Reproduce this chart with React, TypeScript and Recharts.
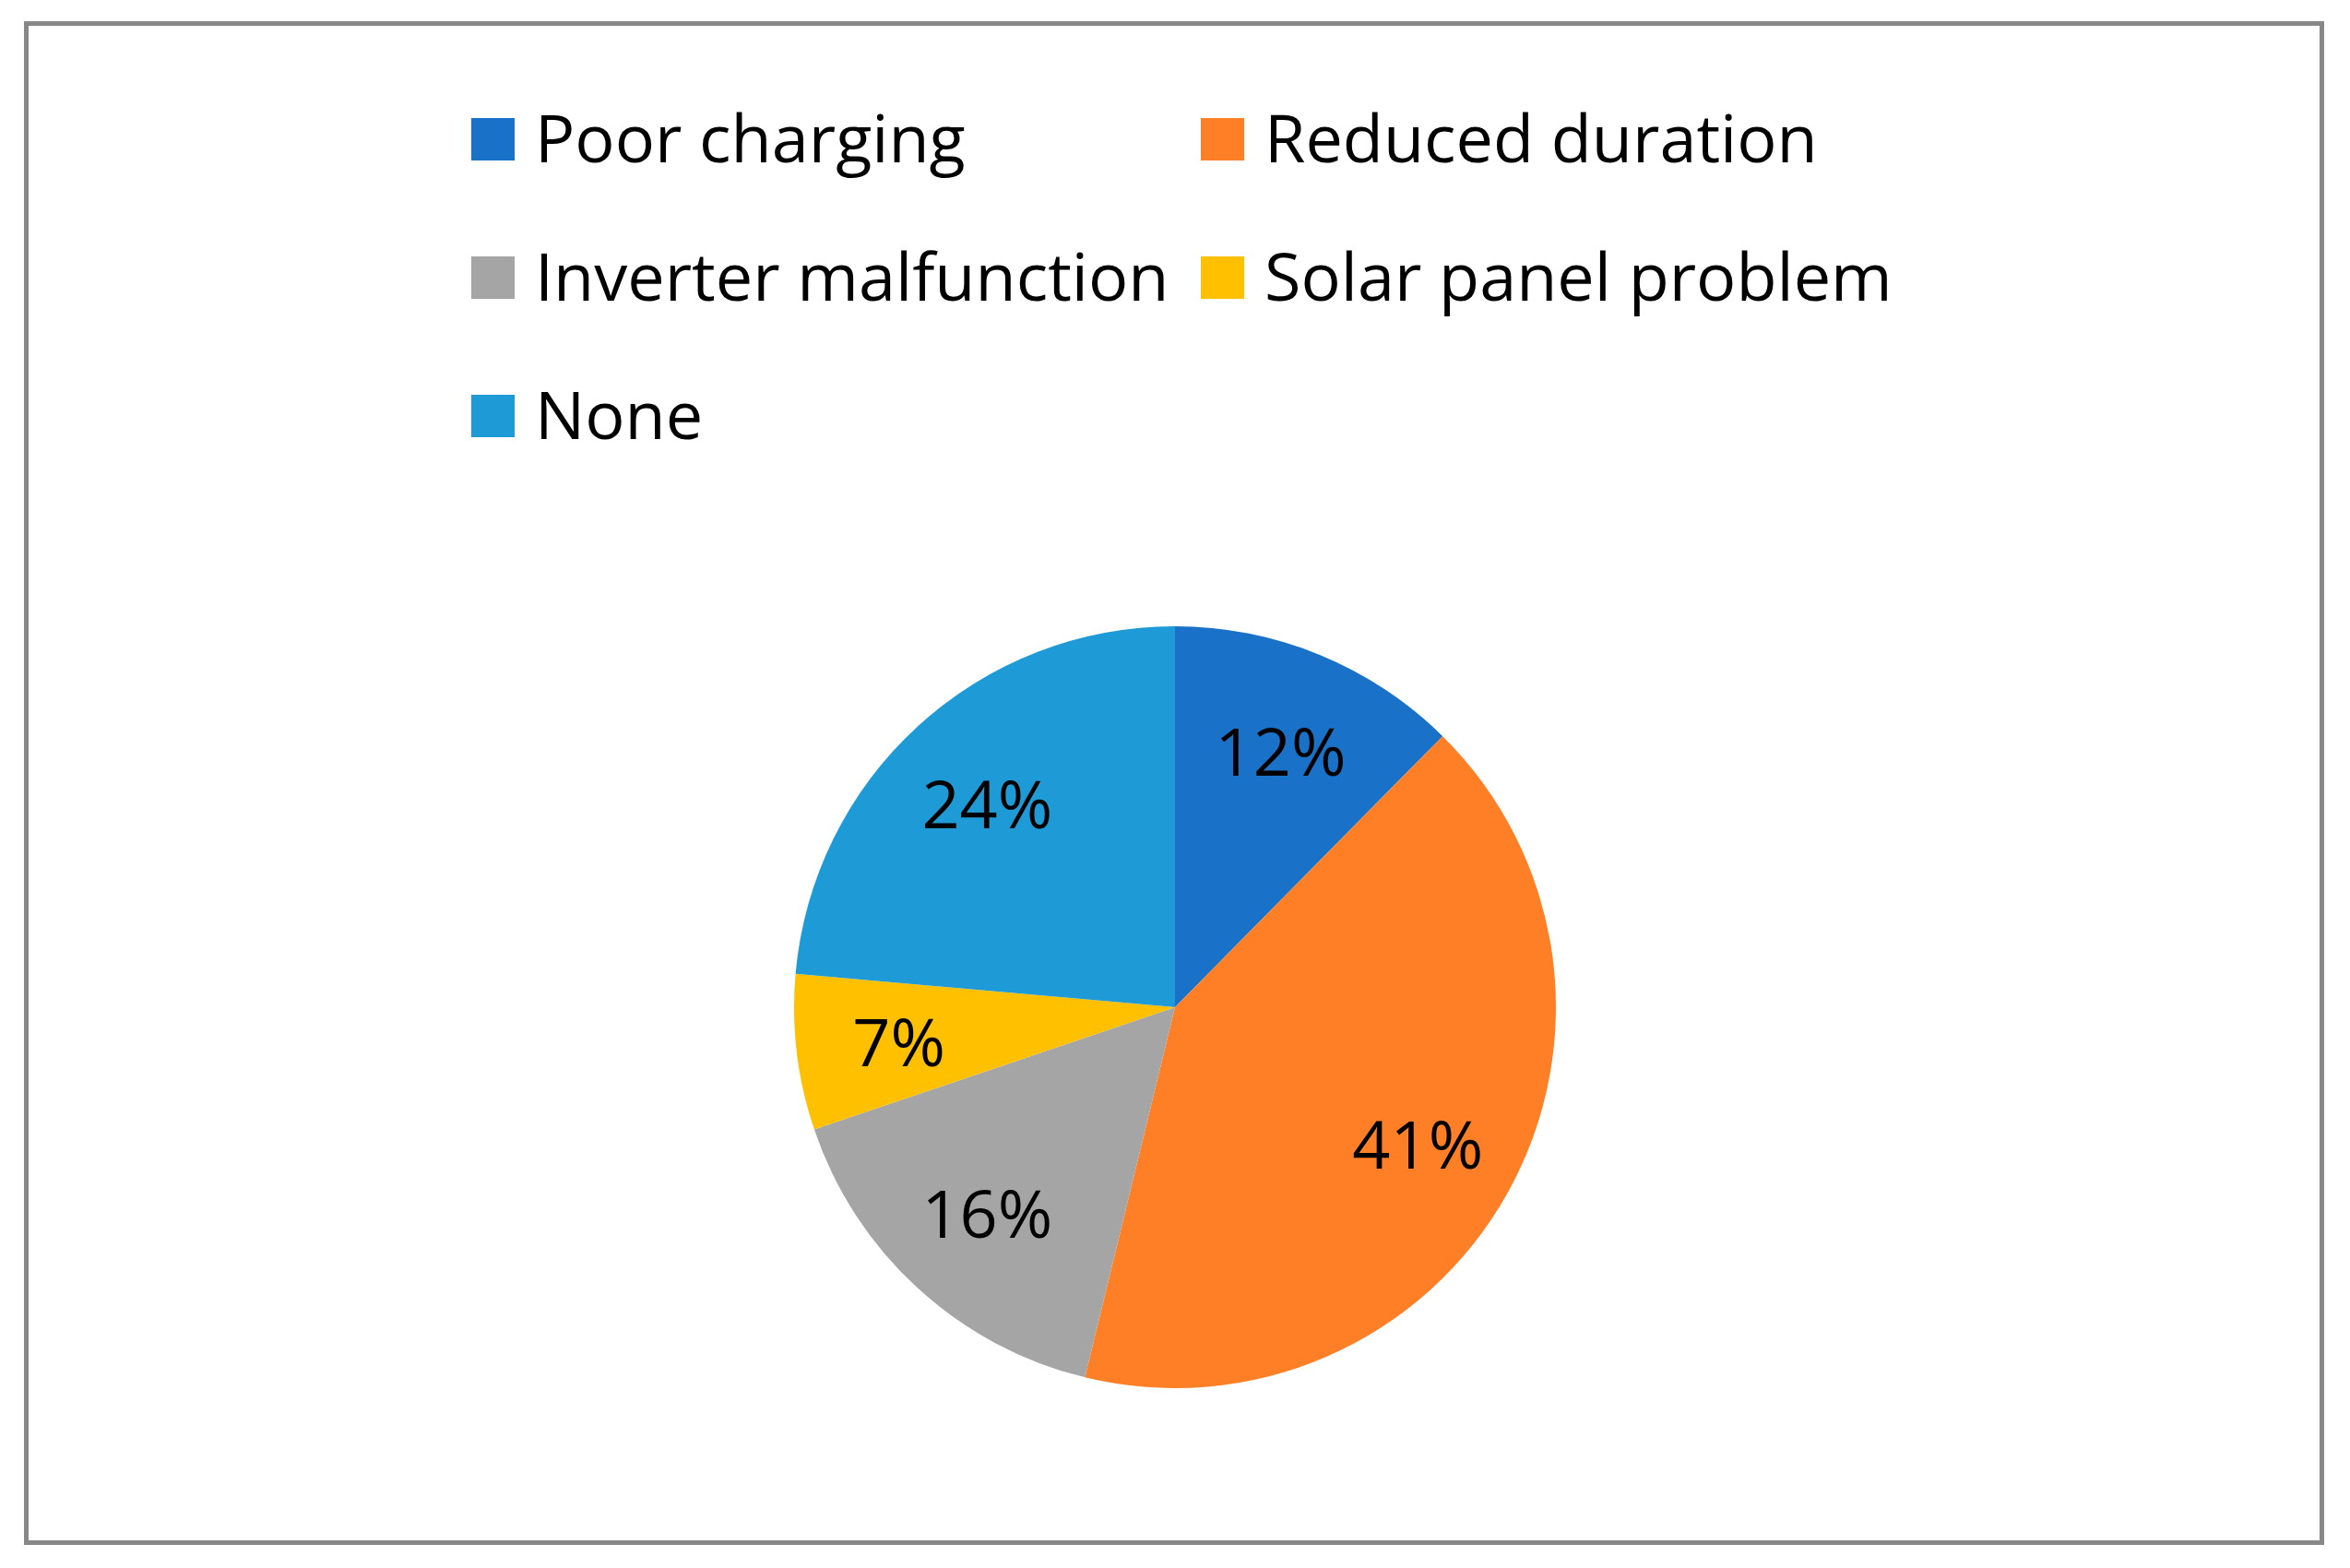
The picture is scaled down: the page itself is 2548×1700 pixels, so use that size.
import { Cell, Legend, Pie, PieChart } from 'recharts';

const categories = ['Poor charging', 'Reduced duration', 'Inverter malfunction', 'Solar panel problem', 'None'];
const shares = [12.4, 41.4, 16.0, 6.6, 23.6];
const colors = ['#1A72C8', '#FF7F27', '#A5A5A5', '#FFC000', '#1E9BD7'];

const data = categories.map((name, i) => ({ name, value: shares[i] }));

const font = '"Open Sans", sans-serif';
const RADIAN = Math.PI / 180;

const renderLabel = (props: any) => {
  const { cx, cy, midAngle, outerRadius, value } = props;
  const r = outerRadius * 0.73;
  const x = cx + r * Math.cos(-midAngle * RADIAN);
  const y = cy + r * Math.sin(-midAngle * RADIAN);
  return (
    <text
      x={x}
      y={y}
      fill="#000"
      textAnchor="middle"
      dominantBaseline="central"
      style={{ fontFamily: font, fontSize: 72 }}
    >
      {`${Math.round(value)}%`}
    </text>
  );
};

// keep legend in data order (recharts sorts by name otherwise)
const renderLegend = (props: any) => {
  const items = [...(props.payload ?? [])].sort(
    (a: any, b: any) => categories.indexOf(a.value) - categories.indexOf(b.value),
  );
  return (
    <div
      style={{
        display: 'grid',
        gridTemplateColumns: '791px auto',
        gridAutoRows: '150px',
        fontFamily: font,
        fontSize: 72,
        color: '#000',
      }}
    >
      {items.map((it: any) => (
        <div key={it.value} style={{ display: 'flex', alignItems: 'center' }}>
          <span style={{ width: 47, height: 46, background: it.color, marginRight: 22, flex: 'none' }} />
          <span style={{ whiteSpace: 'nowrap', position: 'relative', top: -3 }}>{it.value}</span>
        </div>
      ))}
    </div>
  );
};

export default function App() {
  return (
    <div style={{ position: 'absolute', left: 0, top: 0, width: 2548, height: 1700, background: '#fff' }}>
      <div
        style={{
          position: 'absolute',
          left: 26,
          top: 23,
          width: 2494,
          height: 1652,
          border: '5px solid #888888',
          boxSizing: 'border-box',
        }}
      />
      <PieChart width={2548} height={1700} margin={{ top: 0, right: 0, bottom: 0, left: 0 }}>
        <Legend
          layout="horizontal"
          verticalAlign="middle"
          align="center"
          width={1400}
          itemSorter={null}
          wrapperStyle={{ left: 511, top: 76 }}
          content={renderLegend}
        />
        <Pie
          data={data}
          dataKey="value"
          nameKey="name"
          cx={1274}
          cy={1092}
          outerRadius={413}
          startAngle={90}
          endAngle={-270}
          stroke="none"
          label={renderLabel}
          labelLine={false}
          isAnimationActive={false}
        >
          {data.map((d, i) => (
            <Cell key={d.name} fill={colors[i]} />
          ))}
        </Pie>
      </PieChart>
    </div>
  );
}
